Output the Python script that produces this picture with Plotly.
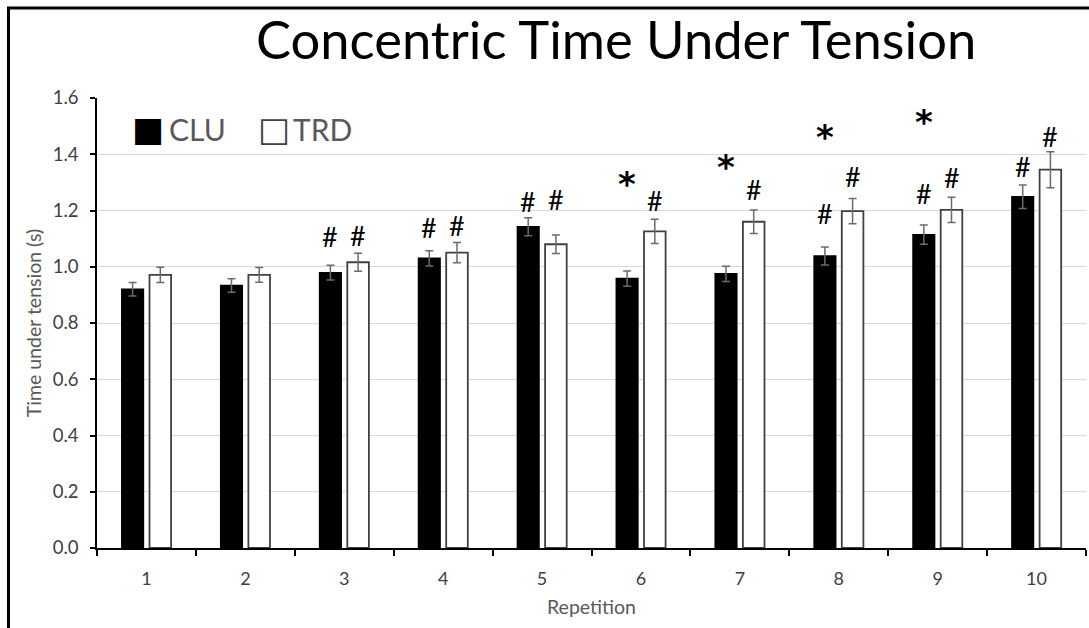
import plotly.graph_objects as go

# Concentric time under tension per repetition, two protocols
reps = [1, 2, 3, 4, 5, 6, 7, 8, 9, 10]
clu_mean = [0.92, 0.933, 0.979, 1.030, 1.142, 0.958, 0.975, 1.038, 1.114, 1.249]
clu_err = [0.024, 0.024, 0.026, 0.027, 0.032, 0.027, 0.027, 0.032, 0.034, 0.042]
trd_mean = [0.971, 0.971, 1.016, 1.050, 1.080, 1.126, 1.160, 1.198, 1.202, 1.345]
trd_err = [0.027, 0.026, 0.032, 0.036, 0.033, 0.043, 0.042, 0.045, 0.045, 0.064]

# significance markers: (repetition, series, symbol, y level)
marks = [
    (3, "CLU", "#", 1.107), (3, "TRD", "#", 1.110),
    (4, "CLU", "#", 1.141), (4, "TRD", "#", 1.147),
    (5, "CLU", "#", 1.231), (5, "TRD", "#", 1.240),
    (6, "CLU", "*", 1.308), (6, "TRD", "#", 1.237),
    (7, "CLU", "*", 1.368), (7, "TRD", "#", 1.273),
    (8, "CLU", "*", 1.474), (8, "CLU", "#", 1.190), (8, "TRD", "#", 1.320),
    (9, "CLU", "*", 1.529), (9, "CLU", "#", 1.261), (9, "TRD", "#", 1.319),
    (10, "CLU", "#", 1.357), (10, "TRD", "#", 1.462),
]

FONT = "Lato"
BARGAP = 0.44
BARGROUPGAP = 0.22
offset = (1 - BARGAP) / 4

fig = go.Figure()
fig.add_trace(go.Bar(
    x=reps, y=clu_mean, name="CLU",
    marker=dict(color="black", line=dict(color="black", width=1.5)),
    error_y=dict(type="data", array=clu_err, color="#6b6b6b", thickness=1.5, width=4),
))
fig.add_trace(go.Bar(
    x=reps, y=trd_mean, name="TRD",
    marker=dict(color="white", line=dict(color="#404040", width=1.8)),
    error_y=dict(type="data", array=trd_err, color="#6b6b6b", thickness=1.5, width=4),
))

annotations = []
for rep, series, sym, yv in marks:
    xv = rep - offset if series == "CLU" else rep + offset
    if sym == "*":
        fnt = dict(family="DejaVu Sans", size=34, color="black", weight="bold")
        ys = -4
    else:
        fnt = dict(family=FONT, size=27, color="black")
        ys = 0
    annotations.append(dict(
        x=xv, y=yv, xref="x", yref="y", text=sym, showarrow=False,
        font=fnt, xanchor="center", yanchor="middle", yshift=ys,
    ))

# title
annotations.append(dict(
    x=0.525, y=1.0, xref="paper", yref="paper", yshift=60,
    text="Concentric Time Under Tension", showarrow=False,
    font=dict(family=FONT, size=52.5, color="black"),
    xanchor="center", yanchor="middle",
))

# legend entries
leg_y = 1.49
annotations += [
    dict(x=0.033, y=leg_y, xref="paper", yref="y", text="■", showarrow=False,
         font=dict(family="DejaVu Sans", size=34, color="black"), xanchor="left", yanchor="middle"),
    dict(x=0.071, y=leg_y, xref="paper", yref="y", text="CLU", showarrow=False,
         font=dict(family=FONT, size=30, color="#595959"), xanchor="left", yanchor="middle"),
    dict(x=0.161, y=leg_y, xref="paper", yref="y", text="□", showarrow=False,
         font=dict(family="DejaVu Sans", size=34, color="#404040"), xanchor="left", yanchor="middle"),
    dict(x=0.196, y=leg_y, xref="paper", yref="y", text="TRD", showarrow=False,
         font=dict(family=FONT, size=30, color="#595959"), xanchor="left", yanchor="middle"),
]

fig.update_layout(
    width=1089, height=628,
    margin=dict(l=97, r=3, t=98, b=80),
    paper_bgcolor="white", plot_bgcolor="white",
    barmode="group", bargap=BARGAP, bargroupgap=BARGROUPGAP,
    showlegend=False,
    annotations=annotations,
    shapes=[dict(type="rect", xref="paper", yref="paper",
                 x0=-0.0895, x1=1.05, y0=-0.3, y1=1.2,
                 line=dict(color="black", width=3), fillcolor="rgba(0,0,0,0)", layer="below")],
    font=dict(family=FONT),
)
fig.update_xaxes(
    range=[0.5, 10.5], tickmode="array", tickvals=reps, ticktext=[str(r) for r in reps],
    ticks="", showline=True, linecolor="black", linewidth=1.5,
    ticklabelstandoff=14,
    tickfont=dict(family=FONT, size=18, color="#404040"),
    minor=dict(tickmode="array", tickvals=[r - 0.5 for r in reps] + [10.5],
               ticks="outside", ticklen=6, tickcolor="black", tickwidth=1.5, showgrid=False),
    title=dict(text="Repetition", font=dict(family=FONT, size=19.5, color="#595959"), standoff=12),
    showgrid=False, zeroline=False,
)
fig.update_yaxes(
    range=[0, 1.6], dtick=0.2, tickformat=".1f",
    ticks="outside", ticklen=5, tickcolor="black", tickwidth=1.5,
    showline=True, linecolor="black", linewidth=1.5,
    showgrid=True, gridcolor="#d9d9d9", gridwidth=1, zeroline=False,
    ticklabelstandoff=8,
    tickfont=dict(family=FONT, size=18.5, color="#404040"),
    title=dict(text="Time under tension (s)", font=dict(family=FONT, size=19.5, color="#595959"), standoff=6),
)

fig.write_html("out.html")
